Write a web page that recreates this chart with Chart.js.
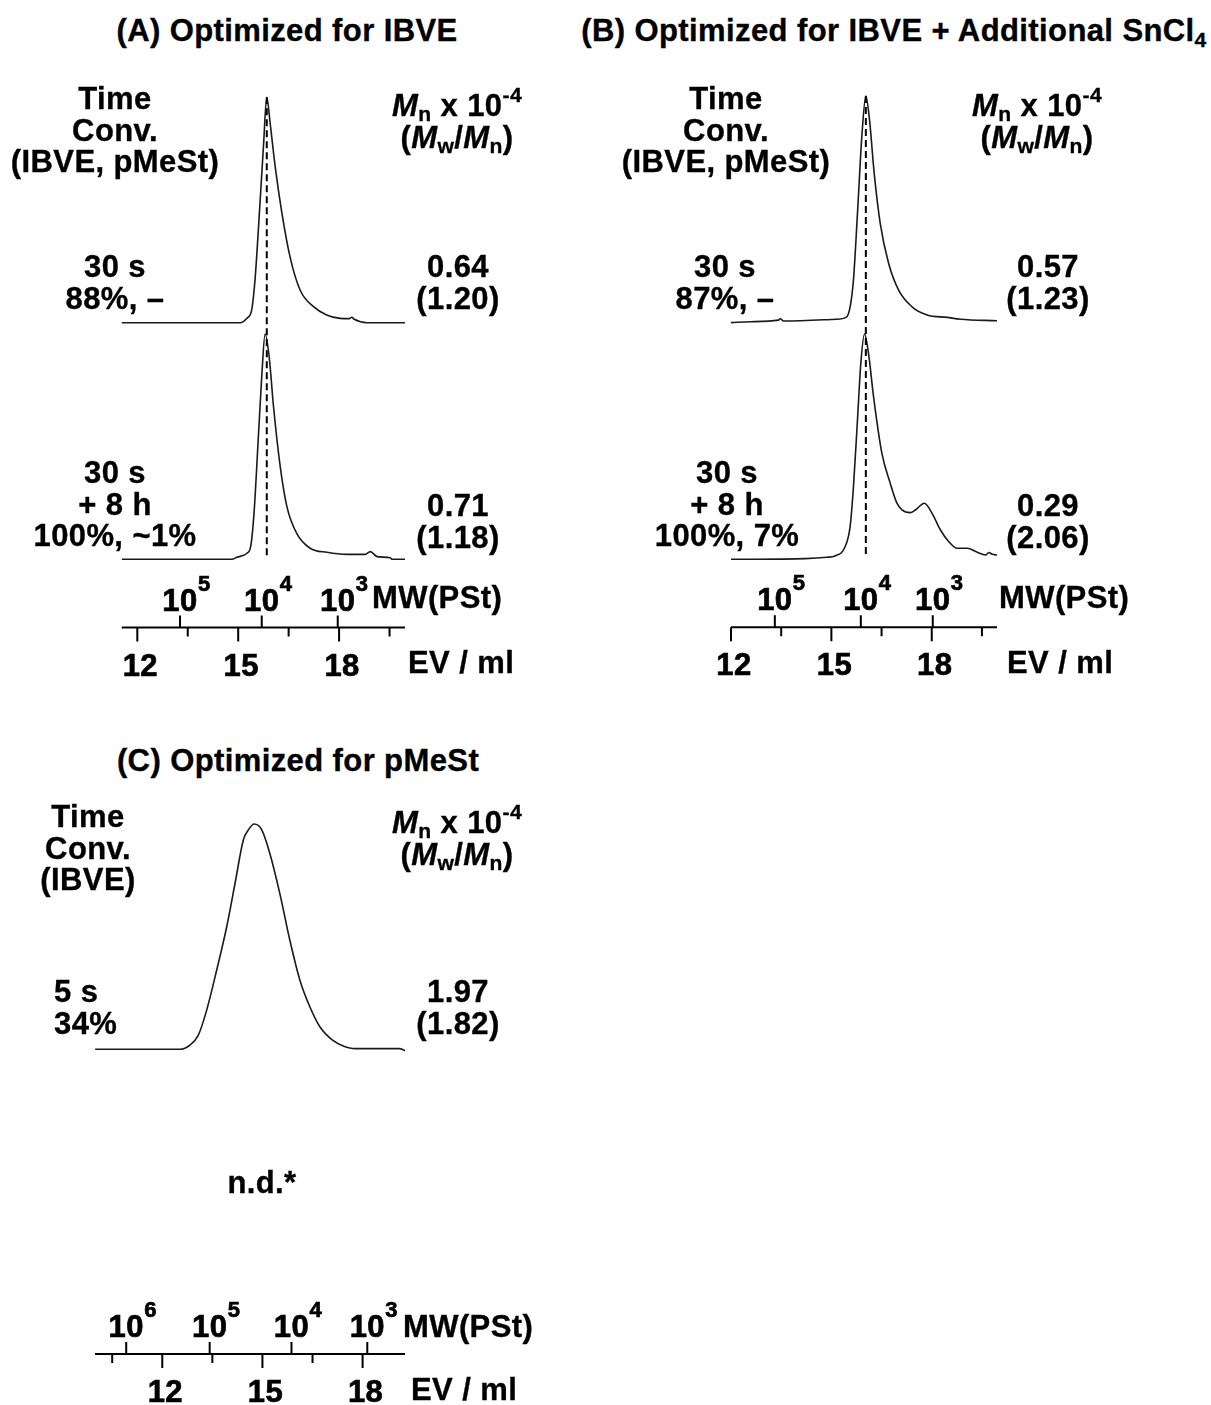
<!DOCTYPE html>
<html>
<head>
<meta charset="utf-8">
<script src="https://cdn.jsdelivr.net/npm/chart.js@4.4.0/dist/chart.umd.min.js"></script>
<style>
  body { margin: 0; background: #fff; }
  #page { position: relative; width: 1211px; height: 1405px; background: #fff; overflow: hidden; }
  canvas { position: absolute; }
  .t { position: absolute; font: bold 31px "Liberation Sans", Arial, sans-serif; line-height: 31.5px;
       letter-spacing: 0.4px; -webkit-text-stroke: 0.35px #000;
       color: #000; text-align: center; transform: translate(-50%, -50%); white-space: nowrap; }
  .t.l { text-align: left; transform: translate(0, -50%); }
  .t i { font-style: italic; }
  .t sub { font-size: 0.68em; vertical-align: -0.25em; line-height: 0; }
  .t sup { font-size: 0.68em; vertical-align: 0.65em; line-height: 0; }
</style>
</head>
<body>
<div id="page">
  <canvas id="chartA"></canvas>
  <canvas id="chartB"></canvas>
  <canvas id="chartC"></canvas>

  <!-- panel A -->
  <div class="t" style="left:287px;top:31px">(A) Optimized for IBVE</div>
  <div class="t" style="left:115px;top:130px">Time<br>Conv.<br>(IBVE, pMeSt)</div>
  <div class="t" style="left:457px;top:121px"><i>M</i><sub>n</sub> x 10<sup>-4</sup><br>(<i>M</i><sub>w</sub>/<i>M</i><sub>n</sub>)</div>
  <div class="t" style="left:115px;top:282px">30 s<br>88%, –</div>
  <div class="t" style="left:458px;top:282px">0.64<br>(1.20)</div>
  <div class="t" style="left:115px;top:504px">30 s<br>+ 8 h<br>100%, ~1%</div>
  <div class="t" style="left:458px;top:521px">0.71<br>(1.18)</div>
  <div class="t l" style="left:372px;top:598px">MW(PSt)</div>
  <div class="t l" style="left:408px;top:663px">EV / ml</div>

  <!-- panel B -->
  <div class="t" style="left:894px;top:31px">(B) Optimized for IBVE + Additional SnCl<sub>4</sub></div>
  <div class="t" style="left:726px;top:130px">Time<br>Conv.<br>(IBVE, pMeSt)</div>
  <div class="t" style="left:1037px;top:121px"><i>M</i><sub>n</sub> x 10<sup>-4</sup><br>(<i>M</i><sub>w</sub>/<i>M</i><sub>n</sub>)</div>
  <div class="t" style="left:725px;top:282px">30 s<br>87%, –</div>
  <div class="t" style="left:1048px;top:282px">0.57<br>(1.23)</div>
  <div class="t" style="left:727px;top:504px">30 s<br>+ 8 h<br>100%, 7%</div>
  <div class="t" style="left:1048px;top:521px">0.29<br>(2.06)</div>
  <div class="t l" style="left:999px;top:598px">MW(PSt)</div>
  <div class="t l" style="left:1007px;top:663px">EV / ml</div>

  <!-- panel C -->
  <div class="t" style="left:298px;top:761px">(C) Optimized for pMeSt</div>
  <div class="t" style="left:88px;top:848px">Time<br>Conv.<br>(IBVE)</div>
  <div class="t" style="left:457px;top:838px"><i>M</i><sub>n</sub> x 10<sup>-4</sup><br>(<i>M</i><sub>w</sub>/<i>M</i><sub>n</sub>)</div>
  <div class="t l" style="left:54px;top:1007px">5 s<br>34%</div>
  <div class="t" style="left:458px;top:1007px">1.97<br>(1.82)</div>
  <div class="t" style="left:262px;top:1183px">n.d.*</div>
  <div class="t l" style="left:403px;top:1327px">MW(PSt)</div>
  <div class="t l" style="left:411px;top:1390px">EV / ml</div>
</div>

<script>
// elution volume (ml) and normalized RI response
// (A) 30 s
const evA1 = [11.54, 15.06, 15.26, 15.40, 15.50, 15.63, 15.75, 15.85, 15.95, 16.10, 16.30, 16.54, 16.84, 17.24, 17.63, 18.03, 18.30, 18.38, 18.45, 18.83, 19.96];
const hA1  = [0, 0, 0.02, 0.056, 0.19, 0.486, 0.78, 1.0, 0.885, 0.692, 0.486, 0.293, 0.145, 0.071, 0.034, 0.019, 0.018, 0.024, 0.015, 0, 0];
// (A) 30 s + 8 h
const evA2 = [11.54, 14.81, 14.96, 15.26, 15.37, 15.47, 15.60, 15.70, 15.80, 15.92, 16.05, 16.25, 16.45, 16.74, 17.14, 17.64, 18.23, 18.78, 18.93, 19.13, 19.52, 19.57, 19.96];
const hA2  = [0, 0, 0.009, 0.027, 0.056, 0.204, 0.544, 0.81, 1.0, 0.90, 0.678, 0.411, 0.233, 0.115, 0.049, 0.031, 0.022, 0.022, 0.034, 0.012, 0.007, 0, 0];
// (B) 30 s
const evB1 = [12.0, 12.57, 13.42, 13.47, 13.57, 15.16, 15.44, 15.56, 15.66, 15.78, 15.91, 16.03, 16.14, 16.28, 16.46, 16.71, 17.01, 17.41, 17.86, 18.46, 18.86, 19.95];
const hB1  = [-0.004, 0, 0.007, 0.013, 0.003, 0.011, 0.019, 0.066, 0.185, 0.48, 0.82, 1.0, 0.894, 0.657, 0.436, 0.259, 0.14, 0.066, 0.03, 0.019, 0.011, 0.004];
// (B) 30 s + 8 h
const evB2 = [12.0, 14.22, 14.87, 15.11, 15.41, 15.56, 15.66, 15.78, 15.88, 15.99, 16.11, 16.26, 16.51, 16.76, 16.96, 17.11, 17.36, 17.51, 17.78, 18.01, 18.26, 18.51, 18.76, 19.06, 19.36, 19.61, 19.71, 19.81, 19.95];
const hB2  = [0, 0.003, 0.009, 0.015, 0.056, 0.145, 0.322, 0.618, 0.87, 1.0, 0.914, 0.722, 0.47, 0.337, 0.249, 0.219, 0.207, 0.219, 0.249, 0.204, 0.13, 0.078, 0.049, 0.049, 0.031, 0.019, 0.03, 0.022, 0.019];
// (C) 5 s
const evC = [9.99, 12.53, 12.83, 13.08, 13.33, 13.63, 13.93, 14.18, 14.43, 14.58, 14.75, 14.98, 15.22, 15.52, 15.82, 16.12, 16.42, 16.72, 17.12, 17.42, 17.77, 19.10, 19.27];
const hC  = [0, 0, 0.019, 0.063, 0.174, 0.352, 0.544, 0.737, 0.93, 0.974, 1.0, 0.974, 0.87, 0.692, 0.485, 0.308, 0.189, 0.1, 0.038, 0.015, 0.003, 0.003, -0.006];

// axis ticks
const evMajor = [12, 15, 18];
const evMinorAB = [13.5, 16.5, 19.5];
const evMinorC = [10.5, 13.5, 16.5];
// PSt calibration: exponent of MW and the EV where it sits
const mwExpA = ['5', '4', '3'];
const mwEvA = [13.27, 15.70, 17.96];
const mwExpB = ['5', '4', '3'];
const mwEvB = [13.31, 15.88, 18.03];
const mwExpC = ['6', '5', '4', '3'];
const mwEvC = [10.92, 13.42, 15.87, 18.14];
// peak position marked with the dashed line
const peakEvA = 15.85;
const peakEvB = 16.03;

const FONT = '"Liberation Sans", Arial, sans-serif';

function boldText(ctx, s, x, y) {
  ctx.fillText(s, x, y);
  ctx.strokeText(s, x, y);
}

//draws EV axis + MW(PSt) axis and the dashed peak line
const gpcAxis = {
  id: 'gpcAxis',
  afterDatasetsDraw(chart, args, o) {
    const { ctx, chartArea: { left, right }, scales } = chart;
    const x = scales.x;
    ctx.save();
    ctx.strokeStyle = '#000';
    ctx.fillStyle = '#000';

    if (o.dashEv != null) {
      const px = x.getPixelForValue(o.dashEv);
      const top = scales.y0.getPixelForValue(1);
      const bottom = scales.y1.getPixelForValue(0) - 4;
      ctx.lineWidth = 2;
      ctx.setLineDash([7, 4]);
      ctx.beginPath();
      ctx.moveTo(px, top);
      ctx.lineTo(px, bottom);
      ctx.stroke();
      ctx.setLineDash([]);
    }

    const ay = o.axisY;
    ctx.lineWidth = 2;
    ctx.beginPath();
    ctx.moveTo(left, ay);
    ctx.lineTo(right, ay);
    for (const v of o.major) {
      const px = x.getPixelForValue(v);
      ctx.moveTo(px, ay);
      ctx.lineTo(px, ay + 14);
    }
    for (const v of o.minor) {
      if (v > x.max) continue;
      const px = x.getPixelForValue(v);
      ctx.moveTo(px, ay);
      ctx.lineTo(px, ay + 9);
    }
    for (const v of o.mwEv) {
      const px = x.getPixelForValue(v);
      ctx.moveTo(px, ay);
      ctx.lineTo(px, ay - 12);
    }
    ctx.stroke();

    ctx.lineWidth = 0.7;
    ctx.letterSpacing = '0.4px';
    ctx.font = 'bold 31px ' + FONT;
    ctx.textAlign = 'center';
    ctx.textBaseline = 'alphabetic';
    for (const v of o.major) {
      boldText(ctx, String(v), x.getPixelForValue(v) + 3, ay + 48);
    }
    o.mwEv.forEach((v, i) => {
      const px = x.getPixelForValue(v);
      ctx.font = 'bold 31px ' + FONT;
      ctx.textAlign = 'center';
      boldText(ctx, '10', px, ay - 17);
      ctx.font = 'bold 22px ' + FONT;
      ctx.textAlign = 'left';
      boldText(ctx, o.mwExp[i], px + 18, ay - 37);
    });
    ctx.restore();
  }
};

// one chart per panel; every trace gets its own hidden y scale so the
// traces sit one above the other inside the same plot area
function gpcPanel(id, cv, plot, xMin, xMax, traces, axis) {
  const el = document.getElementById(id);
  el.width = cv.width;
  el.height = cv.height;
  el.style.left = cv.left + 'px';
  el.style.top = cv.top + 'px';

  const scales = {
    x: { type: 'linear', min: xMin, max: xMax, display: false }
  };
  const datasets = [];
  traces.forEach((tr, i) => {
    const slope = tr.baseY - tr.peakY;
    const min = -(plot.bottom - tr.baseY) / slope;
    scales['y' + i] = { type: 'linear', min: min, max: min + (plot.bottom - plot.top) / slope, display: false };
    datasets.push({
      data: tr.ev.map((v, j) => ({ x: v, y: tr.h[j] })),
      yAxisID: 'y' + i,
      borderColor: '#1a1a1a',
      borderWidth: 1.6,
      pointRadius: 0,
      fill: false,
      clip: false,
      cubicInterpolationMode: 'monotone'
    });
  });

  return new Chart(el, {
    type: 'line',
    data: { datasets },
    options: {
      responsive: false,
      animation: false,
      events: [],
      layout: {
        padding: {
          left: plot.left - cv.left,
          right: cv.left + cv.width - plot.right,
          top: plot.top - cv.top,
          bottom: cv.top + cv.height - plot.bottom
        }
      },
      plugins: {
        legend: { display: false },
        tooltip: { enabled: false },
        gpcAxis: Object.assign({}, axis, { axisY: axis.axisY - cv.top })
      },
      scales
    },
    plugins: [gpcAxis]
  });
}

gpcPanel('chartA',
  { left: 90, top: 60, width: 350, height: 640 },
  { left: 121.7, right: 405, top: 97.3, bottom: 559.3 },
  11.536, 19.96,
  [
    { ev: evA1, h: hA1, peakY: 97.3, baseY: 322.7 },
    { ev: evA2, h: hA2, peakY: 334, baseY: 559.3 }
  ],
  { axisY: 627.5, major: evMajor, minor: evMinorAB, mwEv: mwEvA, mwExp: mwExpA, dashEv: peakEvA }
);

gpcPanel('chartB',
  { left: 700, top: 60, width: 330, height: 640 },
  { left: 731, right: 997, top: 96, bottom: 559.3 },
  12.0, 19.95,
  [
    { ev: evB1, h: hB1, peakY: 96, baseY: 321.7 },
    { ev: evB2, h: hB2, peakY: 334, baseY: 559.3 }
  ],
  { axisY: 627.3, major: evMajor, minor: evMinorAB, mwEv: mwEvB, mwExp: mwExpB, dashEv: peakEvB }
);

gpcPanel('chartC',
  { left: 60, top: 790, width: 380, height: 615 },
  { left: 95, right: 405, top: 824, bottom: 1049.3 },
  9.985, 19.27,
  [
    { ev: evC, h: hC, peakY: 824, baseY: 1049.3 }
  ],
  { axisY: 1354, major: evMajor, minor: evMinorC, mwEv: mwEvC, mwExp: mwExpC, dashEv: null }
);
</script>
</body>
</html>
